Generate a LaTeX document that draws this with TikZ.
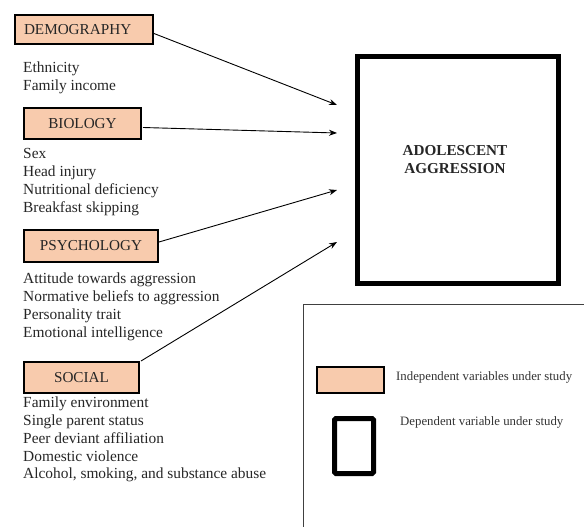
\documentclass[tikz,border=0pt]{standalone}
\usepackage{fontspec}
\setmainfont{Liberation Serif}
\usetikzlibrary{arrows.meta}
\definecolor{peach}{HTML}{F8CBAD}
\begin{document}
\begin{tikzpicture}[x=1pt,y=-1pt,
  indep/.style={draw=black,line width=2pt,fill=peach,inner sep=0pt,font=\fontsize{15.2}{17}\selectfont,text=black!85},
  items/.style={anchor=west,align=left,inner sep=0pt,font=\fontsize{15.4}{17.9}\selectfont,text=black!85},
  conn/.style={line width=0.9pt,-{Stealth[length=8pt,width=6pt]}},
  legtext/.style={anchor=west,inner sep=0pt,font=\fontsize{12.8}{14}\selectfont,text=black!80}]
\useasboundingbox (0,0) rectangle (584,527);
% independent boxes
\node[indep,minimum width=138pt,minimum height=29pt,anchor=north west,text width=120pt,align=left,inner xsep=9pt] (demo) at (14,14) {DEMOGRAPHY};
\node[indep,minimum width=117pt,minimum height=31pt,anchor=north west] (bio) at (23,107) {BIOLOGY};
\node[indep,minimum width=134pt,minimum height=32pt,anchor=north west] (psy) at (23,229) {PSYCHOLOGY};
\node[indep,minimum width=115pt,minimum height=31pt,anchor=north west] (soc) at (23,361) {SOCIAL};
% item lists
\node[items] (demoitems) at (23,77.5) {Ethnicity\\Family income};
\node[items] (bioitems) at (23,182) {Sex\\Head injury\\Nutritional deficiency\\Breakfast skipping};
\node[items] (psyitems) at (23,306.5) {Attitude towards aggression\\Normative beliefs to aggression\\Personality trait\\Emotional intelligence};
\node[items] (socitems) at (23,439.5) {Family environment\\Single parent status\\Peer deviant affiliation\\Domestic violence\\Alcohol, smoking, and substance abuse};
% dependent box
\node[draw=black,line width=5pt,minimum width=201pt,minimum height=226pt,anchor=north west] (dep) at (354.5,54.5) {};
\node[align=center,inner sep=0pt,font=\bfseries\fontsize{15.2}{17.5}\selectfont,text=black!85] (deptext) at (455,159.5) {ADOLESCENT\\AGGRESSION};
% arrow targets
\coordinate (t1) at (337,105);
\coordinate (t2) at (337,133);
\coordinate (t3) at (337,190);
\coordinate (t4) at (337,242);
\draw[conn] (demo.east) ++(0,4) -- (t1);
\draw[conn] (bio.east) ++(1,4) -- (t2);
\draw[conn] (psy.north east) ++(0,13) -- (t3);
\draw[conn] (soc.north east) ++(1,0) -- (t4);
% legend frame
\coordinate (lgA) at (303,528);
\coordinate (lgB) at (303,304);
\coordinate (lgC) at (585,304);
\draw[line width=0.8pt,black!75] (lgA) -- (lgB) -- (lgC);
\node[draw=black,line width=2pt,fill=peach,minimum width=67pt,minimum height=26pt,inner sep=0pt,anchor=north west] (legind) at (316,366) {};
\node[legtext] (legindtext) at (396,377.5) {Independent variables under study};
\node[draw=black,line width=5pt,rounded corners=1.5pt,minimum width=39pt,minimum height=55pt,inner sep=0pt,anchor=north west] (legdep) at (332,416) {};
\node[legtext] (legdeptext) at (400,422) {Dependent variable under study};
\end{tikzpicture}
\end{document}
